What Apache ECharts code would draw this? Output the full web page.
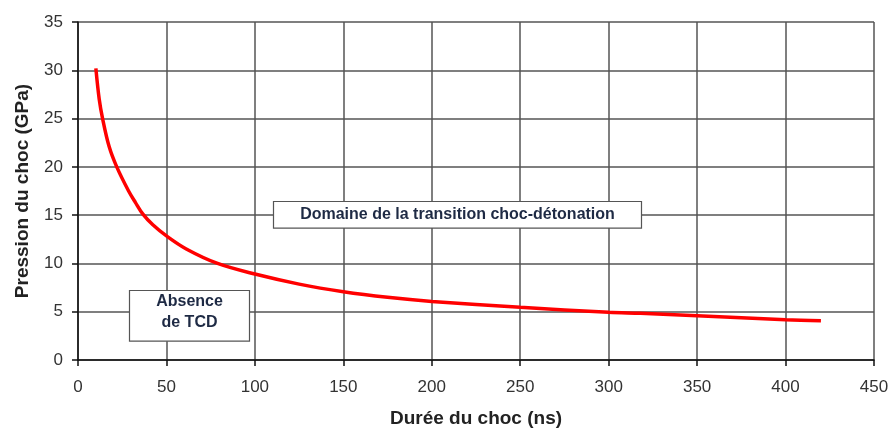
<!DOCTYPE html>
<html>
<head>
<meta charset="utf-8">
<script src="https://cdn.jsdelivr.net/npm/echarts@6/dist/echarts.min.js"></script>
<style>
html,body{margin:0;padding:0;background:#fff;}
#chart{width:893px;height:433px;}
</style>
</head>
<body>
<div id="chart"></div>
<script>
// Durée du choc (ns)
var durations = [10.1, 12, 13.9, 17.6, 21.9, 28.6, 32.5, 36.7, 42.3, 50, 61.2, 78.9, 100, 125, 150, 175, 200, 250, 300, 318, 350, 400, 420];
// Pression du choc (GPa)
var pressures = [30.2, 27.0, 25, 22.1, 20, 17.5, 16.3, 15.1, 14.0, 12.85, 11.5, 10, 8.9, 7.86, 7.07, 6.49, 6.07, 5.45, 4.94, 4.83, 4.59, 4.17, 4.07];
var xTicks = [0, 50, 100, 150, 200, 250, 300, 350, 400, 450];
var yTicks = [0, 5, 10, 15, 20, 25, 30, 35];
var annotations = [
  {text: 'Domaine de la transition choc-détonation', x: 110, y: 16.47, w: 368, h: 26.6, ty: 13},
  {text: 'Absence\nde TCD', x: 28.7, y: 7.24, w: 120, h: 50.7, ty: 22}
];

var chart = echarts.init(document.getElementById('chart'));
var pts = durations.map(function(d, i){ return [d, pressures[i]]; });
var nameFont = {fontFamily: 'Liberation Sans, Arial', fontWeight: 'bold', fontSize: 19, color: '#222'};

chart.setOption({
  animation: false,
  grid: {left: 78, right: 19, top: 22, bottom: 72, containLabel: false},
  xAxis: {
    type: 'value', min: xTicks[0], max: xTicks[xTicks.length-1], interval: 50,
    name: 'Durée du choc (ns)', nameLocation: 'middle', nameGap: 49,
    nameTextStyle: nameFont,
    axisLine: {lineStyle: {color: '#111', width: 1.5}},
    axisTick: {show: true, length: 6, lineStyle: {color: '#111', width: 1.5}},
    axisLabel: {fontFamily: 'Liberation Sans, Arial', fontSize: 17, color: '#333', margin: 19},
    splitLine: {show: true, lineStyle: {color: '#555', width: 1.5}}
  },
  yAxis: {
    type: 'value', min: yTicks[0], max: yTicks[yTicks.length-1], interval: 5,
    name: 'Pression du choc (GPa)', nameLocation: 'middle', nameGap: 46,
    nameTextStyle: nameFont,
    axisLine: {show: true, lineStyle: {color: '#111', width: 1.5}},
    axisTick: {show: true, length: 6, lineStyle: {color: '#111', width: 1.5}},
    axisLabel: {fontFamily: 'Liberation Sans, Arial', fontSize: 17, color: '#333', margin: 15},
    splitLine: {show: true, lineStyle: {color: '#555', width: 1.5}}
  },
  series: [{
    type: 'line', data: pts, smooth: 0.35, showSymbol: false,
    lineStyle: {color: '#ff0000', width: 3.5}, z: 5
  }]
});

function drawAnnotations(){
  var els = annotations.map(function(a){
    var p = chart.convertToPixel({gridIndex: 0}, [a.x, a.y]);
    return {
      type: 'group', x: Math.round(p[0]) + 0.5, y: Math.round(p[1]) + 0.5, z: 10,
      children: [
        {type: 'rect', shape: {x: 0, y: 0, width: a.w, height: a.h},
         style: {fill: '#fff', stroke: '#555', lineWidth: 1.2}},
        {type: 'text', x: a.w / 2, y: a.ty,
         style: {text: a.text, fill: '#1e2a44', font: 'bold 16px "Liberation Sans", Arial',
                 align: 'center', verticalAlign: 'middle', lineHeight: 21}}
      ]
    };
  });
  chart.setOption({graphic: els});
}
drawAnnotations();
</script>
</body>
</html>
